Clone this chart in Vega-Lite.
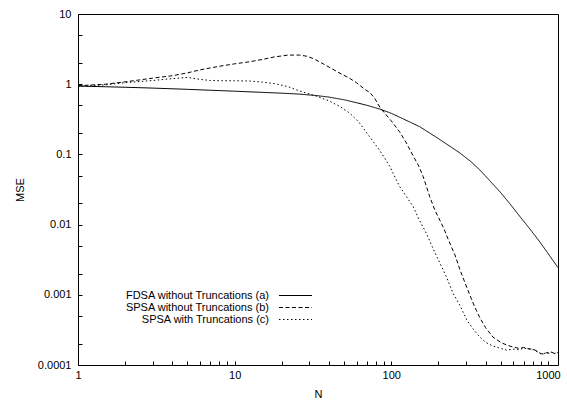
{
  "$schema": "https://vega.github.io/schema/vega-lite/v6.json",
  "width": 480,
  "height": 351,
  "autosize": {"type": "none"},
  "padding": {"left": 78, "top": 14, "right": 9, "bottom": 36},
  "background": "white",
  "config": {
    "view": {"stroke": "black", "strokeWidth": 1},
    "font": "Liberation Sans",
    "axis": {"grid": false, "domain": false, "ticks": true, "labelColor": "black", "labelFont": "Liberation Sans", "labelFontSize": 11, "titleFont": "Liberation Sans", "titleFontSize": 11, "titleFontWeight": "normal", "titleColor": "black"},
    "legend": {"labelFont": "Liberation Sans", "labelFontSize": 11, "labelColor": "black"}
  },
  "data": {"values": [
    {"series": "FDSA without Truncations (a)", "N": 1, "MSE": 0.94},
    {"series": "FDSA without Truncations (a)", "N": 1.5, "MSE": 0.92},
    {"series": "FDSA without Truncations (a)", "N": 2, "MSE": 0.905},
    {"series": "FDSA without Truncations (a)", "N": 3, "MSE": 0.88},
    {"series": "FDSA without Truncations (a)", "N": 5, "MSE": 0.845},
    {"series": "FDSA without Truncations (a)", "N": 7, "MSE": 0.82},
    {"series": "FDSA without Truncations (a)", "N": 10, "MSE": 0.795},
    {"series": "FDSA without Truncations (a)", "N": 15, "MSE": 0.765},
    {"series": "FDSA without Truncations (a)", "N": 20, "MSE": 0.745},
    {"series": "FDSA without Truncations (a)", "N": 26, "MSE": 0.722},
    {"series": "FDSA without Truncations (a)", "N": 33, "MSE": 0.69},
    {"series": "FDSA without Truncations (a)", "N": 40, "MSE": 0.655},
    {"series": "FDSA without Truncations (a)", "N": 50, "MSE": 0.6},
    {"series": "FDSA without Truncations (a)", "N": 60, "MSE": 0.545},
    {"series": "FDSA without Truncations (a)", "N": 70, "MSE": 0.5},
    {"series": "FDSA without Truncations (a)", "N": 85, "MSE": 0.44},
    {"series": "FDSA without Truncations (a)", "N": 100, "MSE": 0.385},
    {"series": "FDSA without Truncations (a)", "N": 120, "MSE": 0.318},
    {"series": "FDSA without Truncations (a)", "N": 152, "MSE": 0.248},
    {"series": "FDSA without Truncations (a)", "N": 200, "MSE": 0.168},
    {"series": "FDSA without Truncations (a)", "N": 274, "MSE": 0.105},
    {"series": "FDSA without Truncations (a)", "N": 320, "MSE": 0.08},
    {"series": "FDSA without Truncations (a)", "N": 368, "MSE": 0.06},
    {"series": "FDSA without Truncations (a)", "N": 420, "MSE": 0.0435},
    {"series": "FDSA without Truncations (a)", "N": 494, "MSE": 0.0294},
    {"series": "FDSA without Truncations (a)", "N": 570, "MSE": 0.02},
    {"series": "FDSA without Truncations (a)", "N": 663, "MSE": 0.013},
    {"series": "FDSA without Truncations (a)", "N": 760, "MSE": 0.0089},
    {"series": "FDSA without Truncations (a)", "N": 889, "MSE": 0.00565},
    {"series": "FDSA without Truncations (a)", "N": 1000, "MSE": 0.0039},
    {"series": "FDSA without Truncations (a)", "N": 1160, "MSE": 0.00244},

    {"series": "SPSA without Truncations (b)", "N": 1, "MSE": 0.95},
    {"series": "SPSA without Truncations (b)", "N": 1.5, "MSE": 1.0},
    {"series": "SPSA without Truncations (b)", "N": 2, "MSE": 1.08},
    {"series": "SPSA without Truncations (b)", "N": 3, "MSE": 1.22},
    {"series": "SPSA without Truncations (b)", "N": 4, "MSE": 1.32},
    {"series": "SPSA without Truncations (b)", "N": 5, "MSE": 1.45},
    {"series": "SPSA without Truncations (b)", "N": 6, "MSE": 1.6},
    {"series": "SPSA without Truncations (b)", "N": 8, "MSE": 1.8},
    {"series": "SPSA without Truncations (b)", "N": 10, "MSE": 1.95},
    {"series": "SPSA without Truncations (b)", "N": 12.5, "MSE": 2.09},
    {"series": "SPSA without Truncations (b)", "N": 15, "MSE": 2.25},
    {"series": "SPSA without Truncations (b)", "N": 18, "MSE": 2.45},
    {"series": "SPSA without Truncations (b)", "N": 22, "MSE": 2.6},
    {"series": "SPSA without Truncations (b)", "N": 26, "MSE": 2.6},
    {"series": "SPSA without Truncations (b)", "N": 29, "MSE": 2.5},
    {"series": "SPSA without Truncations (b)", "N": 32, "MSE": 2.3},
    {"series": "SPSA without Truncations (b)", "N": 36, "MSE": 2.0},
    {"series": "SPSA without Truncations (b)", "N": 42, "MSE": 1.65},
    {"series": "SPSA without Truncations (b)", "N": 48, "MSE": 1.4},
    {"series": "SPSA without Truncations (b)", "N": 54, "MSE": 1.22},
    {"series": "SPSA without Truncations (b)", "N": 60, "MSE": 1.05},
    {"series": "SPSA without Truncations (b)", "N": 67, "MSE": 0.86},
    {"series": "SPSA without Truncations (b)", "N": 73, "MSE": 0.76},
    {"series": "SPSA without Truncations (b)", "N": 78, "MSE": 0.64},
    {"series": "SPSA without Truncations (b)", "N": 85, "MSE": 0.46},
    {"series": "SPSA without Truncations (b)", "N": 100, "MSE": 0.3},
    {"series": "SPSA without Truncations (b)", "N": 113, "MSE": 0.21},
    {"series": "SPSA without Truncations (b)", "N": 125, "MSE": 0.145},
    {"series": "SPSA without Truncations (b)", "N": 138, "MSE": 0.095},
    {"series": "SPSA without Truncations (b)", "N": 150, "MSE": 0.068},
    {"series": "SPSA without Truncations (b)", "N": 160, "MSE": 0.048},
    {"series": "SPSA without Truncations (b)", "N": 176, "MSE": 0.025},
    {"series": "SPSA without Truncations (b)", "N": 190, "MSE": 0.016},
    {"series": "SPSA without Truncations (b)", "N": 204, "MSE": 0.0116},
    {"series": "SPSA without Truncations (b)", "N": 218, "MSE": 0.0085},
    {"series": "SPSA without Truncations (b)", "N": 232, "MSE": 0.006},
    {"series": "SPSA without Truncations (b)", "N": 255, "MSE": 0.0037},
    {"series": "SPSA without Truncations (b)", "N": 274, "MSE": 0.0023},
    {"series": "SPSA without Truncations (b)", "N": 295, "MSE": 0.0015},
    {"series": "SPSA without Truncations (b)", "N": 317, "MSE": 0.001},
    {"series": "SPSA without Truncations (b)", "N": 340, "MSE": 0.00068},
    {"series": "SPSA without Truncations (b)", "N": 368, "MSE": 0.00047},
    {"series": "SPSA without Truncations (b)", "N": 400, "MSE": 0.00034},
    {"series": "SPSA without Truncations (b)", "N": 446, "MSE": 0.00025},
    {"series": "SPSA without Truncations (b)", "N": 500, "MSE": 0.00021},
    {"series": "SPSA without Truncations (b)", "N": 544, "MSE": 0.000193},
    {"series": "SPSA without Truncations (b)", "N": 600, "MSE": 0.00018},
    {"series": "SPSA without Truncations (b)", "N": 660, "MSE": 0.000172},
    {"series": "SPSA without Truncations (b)", "N": 700, "MSE": 0.000178},
    {"series": "SPSA without Truncations (b)", "N": 760, "MSE": 0.00017},
    {"series": "SPSA without Truncations (b)", "N": 805, "MSE": 0.000168},
    {"series": "SPSA without Truncations (b)", "N": 850, "MSE": 0.000158},
    {"series": "SPSA without Truncations (b)", "N": 900, "MSE": 0.000145},
    {"series": "SPSA without Truncations (b)", "N": 935, "MSE": 0.000143},
    {"series": "SPSA without Truncations (b)", "N": 980, "MSE": 0.00015},
    {"series": "SPSA without Truncations (b)", "N": 1020, "MSE": 0.000147},
    {"series": "SPSA without Truncations (b)", "N": 1060, "MSE": 0.000152},
    {"series": "SPSA without Truncations (b)", "N": 1100, "MSE": 0.000146},
    {"series": "SPSA without Truncations (b)", "N": 1140, "MSE": 0.000152},
    {"series": "SPSA without Truncations (b)", "N": 1160, "MSE": 0.000148},

    {"series": "SPSA with Truncations (c)", "N": 1, "MSE": 0.93},
    {"series": "SPSA with Truncations (c)", "N": 1.5, "MSE": 0.98},
    {"series": "SPSA with Truncations (c)", "N": 2, "MSE": 1.05},
    {"series": "SPSA with Truncations (c)", "N": 3, "MSE": 1.13},
    {"series": "SPSA with Truncations (c)", "N": 4, "MSE": 1.2},
    {"series": "SPSA with Truncations (c)", "N": 5, "MSE": 1.25},
    {"series": "SPSA with Truncations (c)", "N": 6, "MSE": 1.17},
    {"series": "SPSA with Truncations (c)", "N": 7, "MSE": 1.13},
    {"series": "SPSA with Truncations (c)", "N": 8, "MSE": 1.12},
    {"series": "SPSA with Truncations (c)", "N": 10, "MSE": 1.12},
    {"series": "SPSA with Truncations (c)", "N": 12.5, "MSE": 1.11},
    {"series": "SPSA with Truncations (c)", "N": 15, "MSE": 1.07},
    {"series": "SPSA with Truncations (c)", "N": 18, "MSE": 1.02},
    {"series": "SPSA with Truncations (c)", "N": 22, "MSE": 0.92},
    {"series": "SPSA with Truncations (c)", "N": 26, "MSE": 0.8},
    {"series": "SPSA with Truncations (c)", "N": 33, "MSE": 0.68},
    {"series": "SPSA with Truncations (c)", "N": 40, "MSE": 0.58},
    {"series": "SPSA with Truncations (c)", "N": 47, "MSE": 0.48},
    {"series": "SPSA with Truncations (c)", "N": 54.5, "MSE": 0.385},
    {"series": "SPSA with Truncations (c)", "N": 62, "MSE": 0.29},
    {"series": "SPSA with Truncations (c)", "N": 70, "MSE": 0.2},
    {"series": "SPSA with Truncations (c)", "N": 77, "MSE": 0.15},
    {"series": "SPSA with Truncations (c)", "N": 84, "MSE": 0.116},
    {"series": "SPSA with Truncations (c)", "N": 98, "MSE": 0.067},
    {"series": "SPSA with Truncations (c)", "N": 113, "MSE": 0.035},
    {"series": "SPSA with Truncations (c)", "N": 125, "MSE": 0.025},
    {"series": "SPSA with Truncations (c)", "N": 138, "MSE": 0.018},
    {"series": "SPSA with Truncations (c)", "N": 150, "MSE": 0.012},
    {"series": "SPSA with Truncations (c)", "N": 167, "MSE": 0.0076},
    {"series": "SPSA with Truncations (c)", "N": 180, "MSE": 0.0052},
    {"series": "SPSA with Truncations (c)", "N": 194, "MSE": 0.0036},
    {"series": "SPSA with Truncations (c)", "N": 210, "MSE": 0.0025},
    {"series": "SPSA with Truncations (c)", "N": 225, "MSE": 0.0018},
    {"series": "SPSA with Truncations (c)", "N": 248, "MSE": 0.00105},
    {"series": "SPSA with Truncations (c)", "N": 275, "MSE": 0.0007},
    {"series": "SPSA with Truncations (c)", "N": 303, "MSE": 0.00044},
    {"series": "SPSA with Truncations (c)", "N": 335, "MSE": 0.00032},
    {"series": "SPSA with Truncations (c)", "N": 368, "MSE": 0.00025},
    {"series": "SPSA with Truncations (c)", "N": 400, "MSE": 0.00021},
    {"series": "SPSA with Truncations (c)", "N": 446, "MSE": 0.000186},
    {"series": "SPSA with Truncations (c)", "N": 500, "MSE": 0.000172},
    {"series": "SPSA with Truncations (c)", "N": 544, "MSE": 0.000163},
    {"series": "SPSA with Truncations (c)", "N": 600, "MSE": 0.000168},
    {"series": "SPSA with Truncations (c)", "N": 660, "MSE": 0.000165},
    {"series": "SPSA with Truncations (c)", "N": 700, "MSE": 0.000175},
    {"series": "SPSA with Truncations (c)", "N": 760, "MSE": 0.000168},
    {"series": "SPSA with Truncations (c)", "N": 805, "MSE": 0.000166},
    {"series": "SPSA with Truncations (c)", "N": 850, "MSE": 0.000155},
    {"series": "SPSA with Truncations (c)", "N": 900, "MSE": 0.000146},
    {"series": "SPSA with Truncations (c)", "N": 935, "MSE": 0.000144},
    {"series": "SPSA with Truncations (c)", "N": 980, "MSE": 0.000151},
    {"series": "SPSA with Truncations (c)", "N": 1020, "MSE": 0.000146},
    {"series": "SPSA with Truncations (c)", "N": 1060, "MSE": 0.000153},
    {"series": "SPSA with Truncations (c)", "N": 1100, "MSE": 0.000145},
    {"series": "SPSA with Truncations (c)", "N": 1140, "MSE": 0.000151},
    {"series": "SPSA with Truncations (c)", "N": 1160, "MSE": 0.000147}
  ]},
  "mark": {"type": "line", "color": "black", "strokeWidth": 1, "clip": true},
  "encoding": {
    "x": {"field": "N", "type": "quantitative",
      "scale": {"type": "log", "domain": [1, 1160], "nice": false},
      "axis": {"orient": "bottom",
        "values": [1,2,3,4,5,6,7,8,9,10,20,30,40,50,60,70,80,90,100,200,300,400,500,600,700,800,900,1000],
        "format": "~g",
        "labelExpr": "indexof([1,10,100,1000], datum.value) >= 0 ? datum.label : ''",
        "ticks": true, "tickSize": 4, "offset": -4, "tickColor": "black", "tickWidth": 1,
        "labelPadding": 4, "labelFlush": false, "labelOverlap": false, "title": "N", "titlePadding": 8}},
    "y": {"field": "MSE", "type": "quantitative",
      "scale": {"type": "log", "domain": [0.0001, 10], "nice": false},
      "axis": {"orient": "left",
        "values": [0.0001,0.0002,0.0005,0.001,0.002,0.005,0.01,0.02,0.05,0.1,0.2,0.5,1,2,5,10],
        "format": "~g",
        "labelExpr": "indexof([0.0001,0.001,0.01,0.1,1,10], datum.value) >= 0 ? datum.label : ''",
        "ticks": true, "tickSize": 4, "offset": -4, "tickColor": "black", "tickWidth": 1,
        "labelPadding": 7, "labelFlush": false, "labelOverlap": false, "title": "MSE", "titlePadding": 12}},
    "strokeDash": {"field": "series", "type": "nominal",
      "scale": {"domain": ["FDSA without Truncations (a)", "SPSA without Truncations (b)", "SPSA with Truncations (c)"], "range": [[1, 0], [4, 2.5], [1.5, 2.5]]},
      "legend": {"orient": "none", "legendX": 163, "legendY": 276, "title": null, "labelAlign": "right", "symbolType": "M-3.3,0H3.3", "symbolSize": 100, "symbolStrokeWidth": 1, "symbolStrokeColor": "black", "symbolOffset": 49, "labelOffset": -32, "rowPadding": 0, "labelLimit": 300}}
  }
}
